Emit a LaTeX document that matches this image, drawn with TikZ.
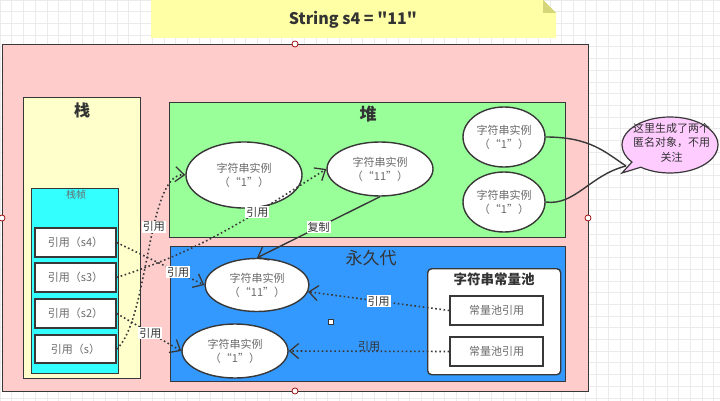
\documentclass[tikz,border=0pt]{standalone}
\usepackage{fontspec}
\setmainfont{Noto Sans CJK SC}
\newfontfamily\titlefont{Noto Sans CJK SC}
\usetikzlibrary{shapes.geometric,shapes.callouts,arrows.meta}
\definecolor{linec}{HTML}{383838}
\definecolor{gridc}{HTML}{EBEBEB}
\definecolor{noteyel}{HTML}{FFFFA6}
\definecolor{notefold}{HTML}{D5D57A}
\definecolor{pinkc}{HTML}{FFCCCC}
\definecolor{stackc}{HTML}{FFFFCC}
\definecolor{framec}{HTML}{33FFFF}
\definecolor{heapc}{HTML}{99FF99}
\definecolor{permc}{HTML}{3399FF}
\definecolor{callc}{HTML}{FFCCFF}
\definecolor{txtgray}{HTML}{6A6A6A}
\definecolor{darktxt}{HTML}{333333}
\begin{document}
\begin{tikzpicture}[x=1pt,y=-1pt,
  region/.style={draw=linec, line width=1.4pt, inner sep=0pt, anchor=north west},
  ell/.style={ellipse, draw=linec, fill=white, line width=1.4pt, inner sep=0pt, align=center,
    font=\fontsize{11}{14}\selectfont, text=txtgray},
  refbox/.style={draw=linec, fill=white, line width=1.4pt, inner sep=0pt,
    font=\fontsize{11}{13}\selectfont, text=txtgray},
  dotline/.style={draw=linec, line width=1.6pt, dash pattern=on 1.6pt off 2.6pt,
    -{Straight Barb[length=9pt,width=15pt,line width=1.3pt]}},
  solidline/.style={draw=linec, line width=1.4pt},
  lbl/.style={fill=white, inner sep=1pt, font=\fontsize{11}{12}\selectfont, text=darktxt},
  handle/.style={circle, draw=red!60!black, fill=white, line width=0.7pt, inner sep=0pt, minimum size=6pt}
]
\useasboundingbox (0,0) rectangle (720,401);
\fill[white] (0,0) rectangle (720,401);
\foreach \i in {0,...,62} {\draw[gridc, line width=0.6pt] (\i*11.7,0) -- (\i*11.7,401);}
\foreach \i in {0,...,35} {\draw[gridc, line width=0.6pt] (0,\i*11.7) -- (720,\i*11.7);}

% note
\fill[noteyel] (151,0) -- (543,0) -- (556,13) -- (556,38) -- (151,38) -- cycle;
\fill[notefold] (543,0) -- (556,13) -- (543,13) -- cycle;
\node[font=\titlefont\fontsize{16}{18}\selectfont\bfseries, text=darktxt] (title) at (353,20) {String s4 = "11"};

% outer
\node[region, fill=pinkc, minimum width=586pt, minimum height=347pt] (outer) at (2,44) {};

% stack
\node[region, fill=stackc, minimum width=117pt, minimum height=281pt] (stack) at (23,97) {};
\node[font=\fontsize{16}{18}\selectfont\bfseries, text=darktxt] (stacktitle) at (82,110) {栈};
\node[region, fill=framec, minimum width=87pt, minimum height=185pt] (frame) at (31,188) {};
\node[font=\fontsize{10}{12}\selectfont, text=txtgray] (frametitle) at (76,195) {栈帧};
\node[refbox, minimum width=81pt, minimum height=29pt] (s4) at (75.5,242.5) {引用（s4）};
\node[refbox, minimum width=81pt, minimum height=29pt] (s3) at (75.5,277.5) {引用（s3）};
\node[refbox, minimum width=81pt, minimum height=29pt] (s2) at (75.5,313.5) {引用（s2）};
\node[refbox, minimum width=81pt, minimum height=28pt] (s) at (75.5,349) {引用（s）};

% heap
\node[region, fill=heapc, minimum width=396pt, minimum height=135pt] (heap) at (169,102) {};
\node[font=\fontsize{17}{19}\selectfont\bfseries, text=darktxt] (heaptitle) at (368,114) {堆};
\node[ell, minimum width=116pt, minimum height=66pt] (heap1) at (244,175) {字符串实例\\（“1”）};
\node[ell, minimum width=106pt, minimum height=54pt] (heap11) at (380,169) {字符串实例\\（“11”）};
\node[ell, minimum width=82pt, minimum height=60pt] (heapA) at (504,137) {字符串实例\\（“1”）};
\node[ell, minimum width=82pt, minimum height=60pt] (heapB) at (504,202) {字符串实例\\（“1”）};

% permanent generation
\node[region, fill=permc, minimum width=395pt, minimum height=135pt] (perm) at (170,246) {};
\node[font=\fontsize{17}{19}\selectfont, text=darktxt] (permtitle) at (371,258) {永久代};
\node[ell, minimum width=104pt, minimum height=53pt] (perm11) at (257,285) {字符串实例\\（“11”）};
\node[ell, minimum width=106pt, minimum height=54pt] (perm1) at (235,351) {字符串实例\\（“1”）};

% constant pool
\node[region, fill=white, rounded corners=4pt, minimum width=133pt, minimum height=106pt] (pool) at (427,268) {};
\node[font=\fontsize{13.5}{15}\selectfont\bfseries, text=darktxt] (pooltitle) at (494,279) {字符串常量池};
\node[refbox, minimum width=93pt, minimum height=29pt] (ref1) at (496.5,310.5) {常量池引用};
\node[refbox, minimum width=93pt, minimum height=29pt] (ref2) at (496.5,351.5) {常量池引用};

% connectors
\draw[dotline] (s4.east) -- (perm11.west) node[lbl, pos=0.7] {引用};
\draw[dotline] (s3.east) to[out=18,in=212] node[lbl, pos=0.67] {引用} (heap11.west);
\draw[dotline] (s2.east) -- (perm1.west) node[lbl, pos=0.52] {引用};
\draw[dotline] (s.east) .. controls (149,320) and (147,172) .. (heap1.west) node[lbl, pos=0.6] {引用};
\draw[solidline, -{Straight Barb[length=9pt,width=15pt,line width=1.3pt]}] (heap11.south) -- (perm11.north) node[lbl, pos=0.5] {复制};
\draw[dotline] (ref1.west) -- (perm11) node[lbl, pos=0.5] {引用};
\draw[dotline] (ref2.west) -- (perm1.east) node[pos=0.5, yshift=5pt, inner sep=0pt, font=\fontsize{11}{12}\selectfont, text=darktxt] {引用};

% callout
\node[ellipse callout, draw=linec, fill=callc, line width=1.2pt, minimum width=96pt, minimum height=56pt, inner sep=0pt,
  callout absolute pointer={(622,173)}] (callout) at (670,145) {};
\node[align=center, font=\fontsize{11}{14.5}\selectfont, text=darktxt, inner sep=0pt] (calltext) at (671.5,142.5) {这里生成了两个\\匿名对象，不用\\关注};
\coordinate (cjoin) at (626,166);
\draw[solidline] (heapA.east) .. controls (590,137) and (605,152) .. (cjoin);
\draw[solidline] (heapB.east) .. controls (575,206) and (590,175) .. (cjoin);

% selection handles
\node[handle] (h1) at (295,44) {};
\node[handle] (h2) at (2,218) {};
\node[handle] (h3) at (588,218) {};
\node[handle] (h4) at (295,391) {};
\node[draw=linec, fill=white, line width=0.8pt, minimum size=5pt, inner sep=0pt] (hsq) at (331,322) {};
\end{tikzpicture}
\end{document}
